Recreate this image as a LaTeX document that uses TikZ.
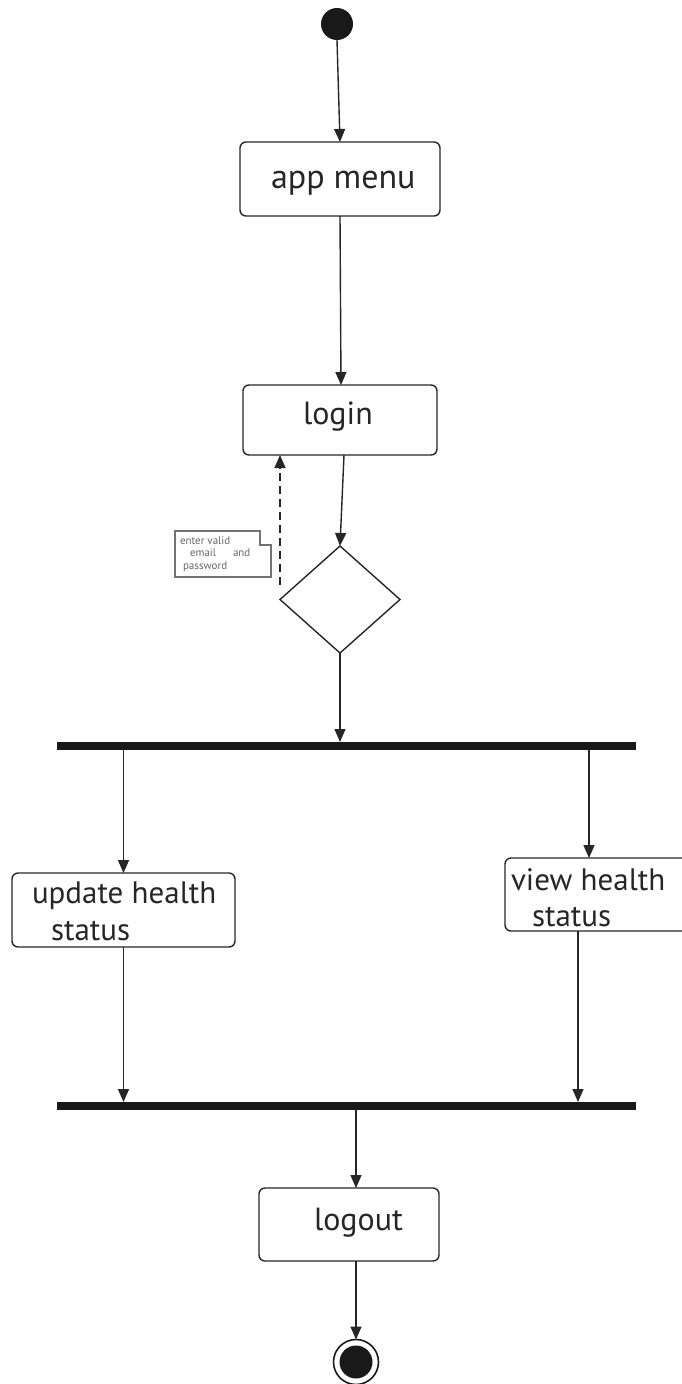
\documentclass[tikz,border=0pt]{standalone}
\usepackage{fontspec}
\setmainfont{PT Sans}
\usetikzlibrary{arrows.meta,shapes.geometric}
\begin{document}
\begin{tikzpicture}[x=1pt,y=-1pt,
  every node/.style={inner sep=0pt,outer sep=0pt},
  actbox/.style={draw=black!85,line width=1.4pt,rounded corners=6pt,rectangle},
  lbl/.style={anchor=base west,font=\fontsize{31}{36}\selectfont,text=black!85},
  flow/.style={draw=black!85,line width=1.4pt,-{Triangle[length=13pt,width=11pt]}},
  bar/.style={fill=black!90,draw=none,rectangle},
  notetxt/.style={anchor=base west,font=\fontsize{11}{12}\selectfont,text=black!60}]
\useasboundingbox (0,0) rectangle (681,1384);

% initial node
\node[circle,fill=black!90,minimum size=32pt] (start) at (337,24) {};

% activities
\node[actbox,minimum width=200pt,minimum height=74pt] (menu) at (340,179) {};
\node[lbl,font=\fontsize{34}{38}\selectfont] at (271,188) {app menu};

\node[actbox,minimum width=194pt,minimum height=70pt] (login) at (340,420) {};
\node[lbl,font=\fontsize{32}{36}\selectfont] at (303,424) {login};

\node[diamond,draw=black!85,line width=1.4pt,minimum width=120pt,minimum height=107pt,aspect=1.12] (dec) at (340,599.5) {};

% note
\draw[draw=black!55,line width=1.2pt] (175,531) -- (260,531) -- (260,545) -- (271,545) -- (271,577) -- (175,577) -- cycle;
\node[notetxt] at (180,544) {enter valid};
\node[notetxt] at (190,556) {email};
\node[notetxt] at (233,556) {and};
\node[notetxt] at (183,569) {password};

% fork and join bars
\node[bar,minimum width=579pt,minimum height=8pt] (fork) at (346.5,746) {};
\node[bar,minimum width=579pt,minimum height=8pt] (join) at (346.5,1106) {};

\node[actbox,minimum width=223pt,minimum height=74pt] (update) at (123.5,910) {};
\node[lbl] at (32,903) {update health};
\node[lbl] at (51,940) {status};

\node[actbox,minimum width=200pt,minimum height=73pt] (view) at (605,894.5) {};
\node[lbl] at (511,890) {view health};
\node[lbl] at (532,926) {status};

\node[actbox,minimum width=180pt,minimum height=73pt] (logout) at (349,1224.5) {};
\node[lbl,font=\fontsize{32}{36}\selectfont] at (314,1230) {logout};

% final node
\node[circle,draw=black!90,line width=1.6pt,minimum size=45pt] (final) at (356,1362) {};
\node[circle,fill=black!90,minimum size=33pt] (finaldot) at (356,1362) {};

% connectors
\draw[flow] (start.south) -- (menu.north);
\draw[flow] (menu.south) -- ([xshift=1pt]login.north);
\draw[flow] ([xshift=4pt]login.south) -- (dec.north);
\draw[draw=black!85,line width=1.4pt,dashed,dash pattern=on 8pt off 5pt,-{Triangle[length=13pt,width=11pt]}]
  (dec.west |- 0,585) -- (dec.west |- login.south);
\draw[flow] (dec.south) -- (fork.north -| dec.south);
\draw[flow] (fork.south -| update.north) -- (update.north);
\draw[flow] (fork.south -| 589,0) -- (view.north -| 589,0);
\draw[flow] (update.south) -- (join.north -| update.south);
\draw[flow] (view.south -| 578,0) -- (join.north -| 578,0);
\draw[flow] (join.south -| 356,0) -- (logout.north -| 356,0);
\draw[flow] (logout.south -| 356,0) -- (final.north);
\end{tikzpicture}
\end{document}
